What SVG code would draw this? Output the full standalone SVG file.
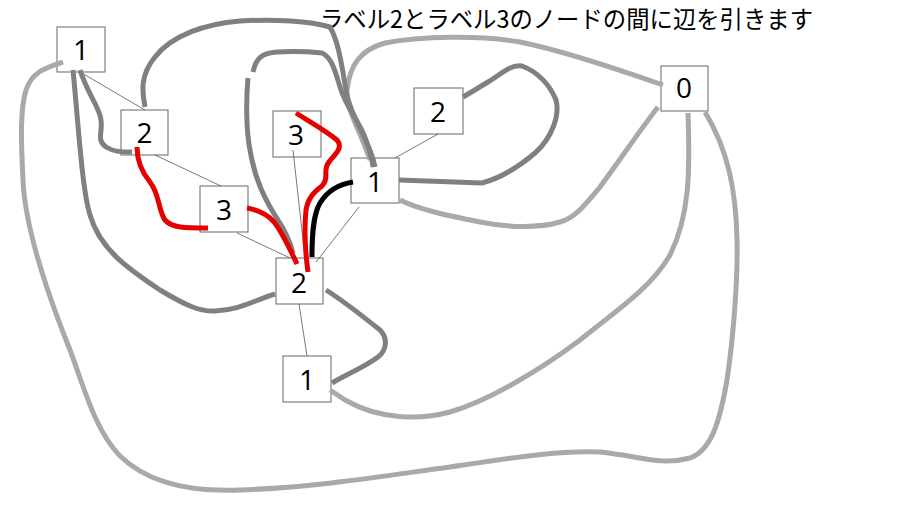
<svg xmlns="http://www.w3.org/2000/svg" width="900" height="506" viewBox="0 0 900 506">
<style>
.box{fill:#fff;stroke:#666;stroke-width:1}
.lbl{font-family:"Open Sans","Noto Sans",sans-serif;font-size:28px;fill:#000;text-anchor:middle}
.thin{fill:none;stroke:#555;stroke-width:0.8}
.dg{fill:none;stroke:#808080;stroke-width:5;stroke-linecap:butt;stroke-linejoin:round}
.lg{fill:none;stroke:#a9a9a9;stroke-width:5;stroke-linecap:butt;stroke-linejoin:round}
.red{fill:none;stroke:#e60000;stroke-width:5;stroke-linejoin:round}
.blk{fill:none;stroke:#000;stroke-width:5;stroke-linejoin:round}
.title{font-family:"Noto Sans CJK JP",sans-serif;font-size:24px;fill:#000}
</style>
<rect width="900" height="506" fill="#fff"/>
<text class="title" x="320" y="28" textLength="493" lengthAdjust="spacingAndGlyphs">ラベル2とラベル3のノードの間に辺を引きます</text>
<g id="nodes">
<g id="n1a"><rect class="box" x="57" y="27" width="48" height="45"/><text class="lbl" x="81" y="60">1</text></g>
<g id="n2a"><rect class="box" x="121" y="110" width="47" height="45"/><text class="lbl" x="144.5" y="143">2</text></g>
<g id="n3a"><rect class="box" x="200" y="186" width="48" height="46"/><text class="lbl" x="224" y="220">3</text></g>
<g id="n3b"><rect class="box" x="273" y="111" width="48" height="46"/><text class="lbl" x="296" y="145">3</text></g>
<g id="n1b"><rect class="box" x="351" y="158" width="48" height="45"/><text class="lbl" x="375" y="192">1</text></g>
<g id="n2b"><rect class="box" x="414" y="88" width="49" height="46"/><text class="lbl" x="438" y="122">2</text></g>
<g id="n0"><rect class="box" x="661" y="66" width="47" height="45"/><text class="lbl" x="684" y="98">0</text></g>
<g id="n2c"><rect class="box" x="276" y="258" width="47" height="46"/><text class="lbl" x="299" y="293">2</text></g>
<g id="n1c"><rect class="box" x="283" y="356" width="48" height="46"/><text class="lbl" x="307" y="390">1</text></g>
</g>
<g id="connectors">
<path class="thin" d="M80,72 L145,110"/>
<path class="thin" d="M155,155 L221,186"/>
<path class="thin" d="M237,233 L290,258"/>
<path class="thin" d="M293,150 L305,258"/>
<path class="thin" d="M359,207 L316,262"/>
<path class="thin" d="M438,134 L395,158"/>
<path class="thin" d="M299,304 L307,356"/>

<path class="lg" d="M63,62 C45,68 32,72 26,90 C20,110 21,140 23,180 C25,230 50,300 70,350 C85,390 95,430 120,456 C150,485 195,492 240,490 C320,487 390,475 450,467 C510,458 560,450 600,452 C640,456 660,466 690,458 C712,450 720,420 727,380 C733,340 738,280 737,240 C736,190 728,150 705,112"/>
<path class="lg" d="M663,85 C620,70 560,50 520,42 C480,35 420,36 385,43 C360,50 350,65 347,90 C346,110 360,130 370,160"/>
<path class="lg" d="M688,113 C690,170 690,215 670,255 C650,290 610,315 580,340 C540,370 490,400 450,412 C420,420 380,420 345,400 L330,390"/>
<path class="lg" d="M658,107 C640,130 620,160 600,187 C585,205 575,218 560,222 C540,228 510,228 480,222 C450,216 420,210 400,200"/>

<path class="dg" d="M73,70 C78,120 82,190 90,215 C100,250 130,270 160,290 C185,305 200,312 215,311 C240,310 255,300 275,294"/>
<path class="dg" d="M80,70 C88,95 100,108 101,120 C103,132 96,140 106,147 C114,152 122,152 132,152"/>
<path class="dg" d="M145,107 C142,92 140,75 155,57 C172,35 205,24 240,21 C275,19 310,21 330,27 C340,45 342,70 347,95 C352,120 370,140 375,167"/>
<path class="dg" d="M253,72 C256,58 262,53 277,52 C295,51 312,52 322,53 C333,58 336,75 341,90 C348,110 358,120 364,135 C369,148 372,158 373,167"/>
<path class="dg" d="M248,78 C246,100 246,130 250,150 C255,180 265,200 278,220 C288,235 291,245 293,253"/>
<path class="dg" d="M399,180 C430,181 460,182 482,183 C497,179 515,170 535,153 C552,138 560,115 556,100 C550,85 538,72 522,66 C510,64 500,75 488,82 C478,88 470,93 463,97"/>
<path class="dg" d="M326,290 C345,302 365,318 380,330 C388,338 387,350 378,357 C365,367 345,375 332,383"/>

<path class="red" d="M137,147 C137,158 140,170 150,182 C160,195 158,210 165,220 C172,228 185,228 208,228"/>
<path class="red" d="M247,208 C258,210 268,215 274,222 C282,232 288,245 297,264"/>
<path class="red" d="M296,113 C310,122 325,130 337,140 C344,148 334,155 329,162 C322,170 330,178 322,186 C314,192 308,198 306,210 C304,230 305,250 308,272"/>
<path class="blk" d="M353,182 C340,184 328,190 320,203 C313,215 312,235 312,257"/>
</g>
</svg>
